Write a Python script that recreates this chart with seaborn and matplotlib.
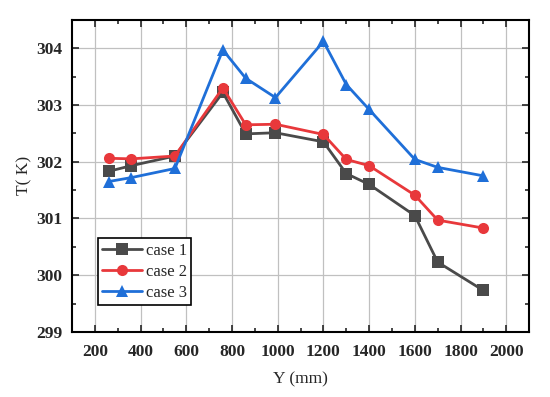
import pandas as pd
import seaborn as sns
import matplotlib.pyplot as plt
from matplotlib.ticker import MultipleLocator

y_mm = [260, 360, 550, 760, 860, 990, 1200, 1300, 1400, 1600, 1700, 1900]
case1 = [301.83, 301.93, 302.10, 303.22, 302.49, 302.51, 302.35, 301.79, 301.60, 301.05, 300.23, 299.73]
case2 = [302.06, 302.05, 302.10, 303.30, 302.65, 302.66, 302.48, 302.04, 301.93, 301.41, 300.97, 300.83]
case3 = [301.65, 301.72, 301.88, 303.97, 303.47, 303.13, 304.12, 303.36, 302.92, 302.04, 301.90, 301.75]

df = pd.DataFrame({'Y': y_mm * 3,
                   'T': case1 + case2 + case3,
                   'case': ['case 1'] * 12 + ['case 2'] * 12 + ['case 3'] * 12})

sns.set_style('ticks')
plt.rcParams['font.family'] = ['Liberation Serif', 'Noto Sans CJK SC']

fig = plt.figure(figsize=(5.5, 3.97), dpi=100)
ax = fig.add_axes([0.131, 0.164, 0.831, 0.786])

palette = {'case 1': '#4a4a4a', 'case 2': '#e8383b', 'case 3': '#1f6fd8'}
markers = {'case 1': 's', 'case 2': 'o', 'case 3': '^'}
sns.lineplot(data=df, x='Y', y='T', hue='case', style='case', palette=palette,
             markers=markers, dashes=False, markersize=8, linewidth=2,
             markeredgewidth=0, ax=ax)

ax.set_xlim(100, 2100)
ax.set_ylim(299, 304.5)
ax.xaxis.set_major_locator(MultipleLocator(200))
ax.xaxis.set_minor_locator(MultipleLocator(100))
ax.yaxis.set_major_locator(MultipleLocator(1))
ax.yaxis.set_minor_locator(MultipleLocator(0.5))
ax.grid(True, which='major', color='#c0c0c0', linewidth=0.9)
ax.tick_params(which='both', direction='in', top=True, right=True, width=1.2)
ax.tick_params(which='major', length=5, labelsize=12.5)
ax.tick_params(axis='x', which='major', pad=9)
ax.tick_params(axis='y', which='major', pad=7)
ax.tick_params(which='minor', length=3)
for lab in ax.get_xticklabels() + ax.get_yticklabels():
    lab.set_fontweight('bold')
for s in ax.spines.values():
    s.set_linewidth(1.5)
    s.set_color('black')

ax.set_xlabel('Y (mm)', fontsize=12.5, labelpad=8)
ax.set_ylabel('T( K)', fontsize=12.5, labelpad=3)

leg = ax.legend(loc='lower left', bbox_to_anchor=(0.057, 0.087), borderaxespad=0,
                fontsize=12, fancybox=False, framealpha=1, edgecolor='black',
                handlelength=2.4, borderpad=0.25, labelspacing=0.3, handletextpad=0.2)
leg.get_frame().set_linewidth(1.2)

fig.savefig('out.png', dpi=100)
